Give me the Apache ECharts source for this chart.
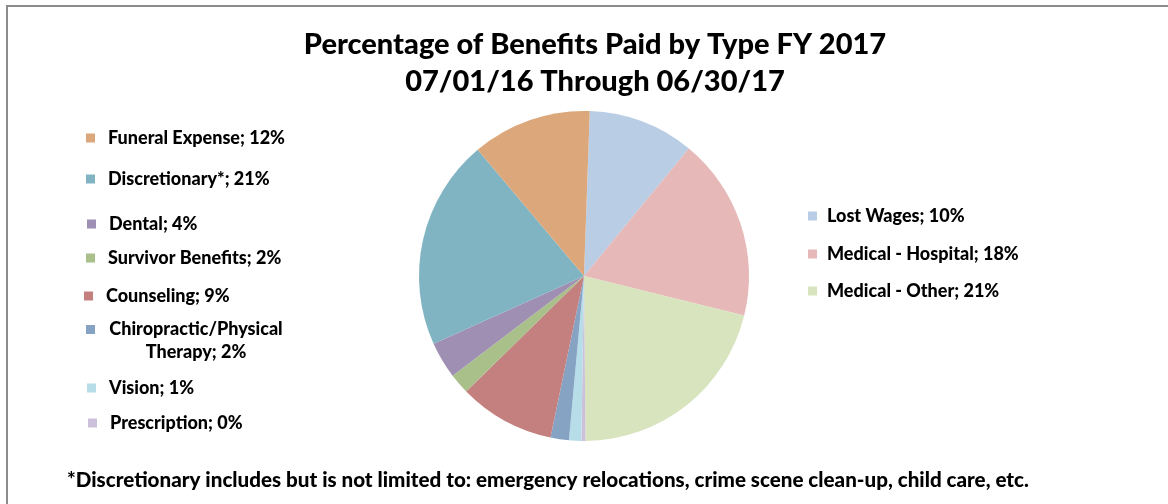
<!DOCTYPE html>
<html>
<head>
<meta charset="utf-8">
<script src="https://cdn.jsdelivr.net/npm/echarts@6/dist/echarts.min.js"></script>
<style>
html,body{margin:0;padding:0;background:#fff;}
#chart{width:1168px;height:504px;}
</style>
</head>
<body>
<div id="chart"></div>
<script>
// Data (clockwise from top)
const categories = ['Lost Wages','Medical - Hospital','Medical - Other','Prescription','Vision','Chiropractic/Physical Therapy','Counseling','Survivor Benefits','Dental','Discretionary*','Funeral Expense'];
const values = [10.4, 17.9, 21.0, 0.4, 1.2, 1.8, 9.4, 2.0, 3.6, 20.6, 11.7];
const legendLabels = ['Lost Wages; 10%','Medical - Hospital; 18%','Medical - Other; 21%','Prescription; 0%','Vision; 1%','Chiropractic/Physical\nTherapy; 2%','Counseling; 9%','Survivor Benefits; 2%','Dental; 4%','Discretionary*; 21%','Funeral Expense; 12%'];
const colors = ['#b9cde5','#e6b8b7','#d7e4bd','#ccc0da','#b7dde8','#87a3c4','#c3807e','#a9c08b','#9f8fb2','#80b4c3','#dca87b'];
const titleLines = ['Percentage of Benefits Paid by Type FY 2017','07/01/16 Through 06/30/17'];
const footnote = '*Discretionary includes but is not limited to: emergency relocations, crime scene clean-up, child care, etc.';

// Legend layout: [category index, marker left, center y]
const legendPos = [
  [10, 86, 138], [9, 86, 179], [8, 87, 224], [7, 86, 258], [6, 84, 296],
  [5, 86, 332], [4, 87, 388], [3, 88, 423],
  [0, 808, 216], [1, 808, 254], [2, 808, 291]
];

const FONT = 'Lato';
const FW = 900;
const LFS = 18;
const labelMap = {};
categories.forEach((c, i) => labelMap[c] = legendLabels[i]);

const legends = legendPos.map(([idx, left, cy]) => {
  const isChiro = idx === 5;
  const right = left > 500;
  const base = {
    show: true,
    data: [categories[idx]],
    left: left,
    top: cy - LFS / 2,
    padding: 0,
    orient: 'vertical',
    icon: 'rect',
    itemWidth: 9,
    itemHeight: 9,
    selectedMode: false,
    formatter: (n) => labelMap[n],
    textStyle: {
      fontFamily: FONT,
      fontWeight: FW,
      fontSize: LFS,
      color: '#000',
      padding: [0, 0, 0, right ? 5 : 8]
    }
  };
  if (isChiro) {
    const parts = labelMap[categories[idx]].split('\n');
    const rs = { fontFamily: FONT, fontWeight: FW, fontSize: LFS, color: '#000', lineHeight: 23, width: 182, align: 'center' };
    base.top = cy - 34.5;
    base.formatter = () => '{e| }\n{a|' + parts[0] + '}\n{a|' + parts[1] + '}';
    base.textStyle.rich = { e: rs, a: rs };
    base.textStyle.padding = [0, 0, 0, 5];
  }
  return base;
});

const chart = echarts.init(document.getElementById('chart'), null, { renderer: 'canvas' });
chart.setOption({
  animation: false,
  backgroundColor: '#ffffff',
  color: colors,
  title: [{
    text: titleLines.join('\n'),
    left: 595,
    top: 26,
    padding: 0,
    textAlign: 'center',
    textStyle: { fontFamily: FONT, fontWeight: FW, fontSize: 29, lineHeight: 37, color: '#000' }
  }, {
    text: footnote,
    left: 67,
    top: 470,
    padding: 0,
    textStyle: { fontFamily: FONT, fontWeight: FW, fontSize: 20.6, color: '#000' }
  }],
  legend: legends,
  graphic: [{
    type: 'rect',
    shape: { x: 7, y: 6, width: 1300, height: 700 },
    style: { fill: 'none', stroke: '#8c8c8c', lineWidth: 2 },
    silent: true
  }],
  series: [{
    type: 'pie',
    center: [584, 276],
    radius: 165,
    startAngle: 88,
    clockwise: true,
    avoidLabelOverlap: false,
    label: { show: false },
    labelLine: { show: false },
    emphasis: { disabled: true },
    itemStyle: { borderWidth: 0 },
    data: categories.map((c, i) => ({ name: c, value: values[i] }))
  }]
});
</script>
</body>
</html>
